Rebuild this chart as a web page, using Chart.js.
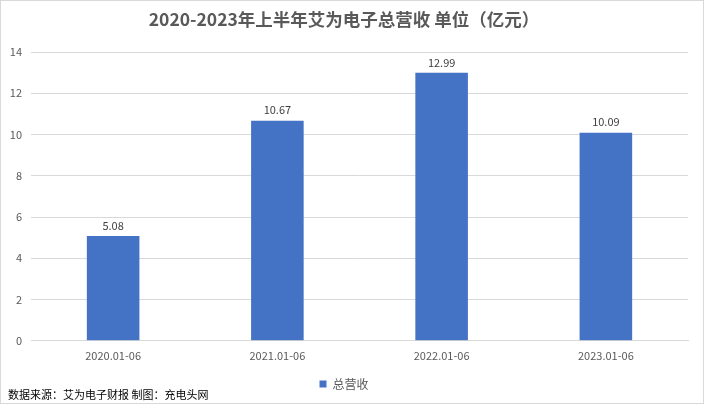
<!DOCTYPE html>
<html><head><meta charset="utf-8">
<script src="https://cdn.jsdelivr.net/npm/chart.js@4/dist/chart.umd.min.js"></script>
<style>html,body{margin:0;padding:0;background:#fff}#wrap{width:704px;height:404px;position:relative}</style>
</head><body><div id="wrap"><canvas id="c" width="704" height="404"></canvas></div>
<script>
const categories = ['2020.01-06','2021.01-06','2022.01-06','2023.01-06'];
const revenue = [5.08, 10.67, 12.99, 10.09];
const seriesName = '总营收';
const titleText = '2020-2023年上半年艾为电子总营收 单位（亿元）';
const footerText = '数据来源：艾为电子财报 制图：充电头网';
const FONT = '"Noto Sans CJK SC", "Noto Sans", sans-serif';

const extras = {
  id: 'extras',
  beforeDraw(chart) {
    const ctx = chart.ctx;
    ctx.save();
    ctx.fillStyle = '#fff';
    ctx.fillRect(0, 0, chart.width, chart.height);
    ctx.restore();
  },
  afterDraw(chart) {
    const ctx = chart.ctx;
    ctx.save();
    const meta = chart.getDatasetMeta(0);
    ctx.font = '11px ' + FONT;
    ctx.fillStyle = '#404040';
    ctx.textAlign = 'center';
    ctx.textBaseline = 'bottom';
    meta.data.forEach((bar, i) => {
      ctx.fillText(revenue[i].toFixed(2), bar.x, bar.y - 5);
    });
    ctx.font = '11px ' + FONT;
    ctx.fillStyle = '#000';
    ctx.textAlign = 'left';
    ctx.textBaseline = 'middle';
    ctx.fillText(footerText, 8, 395);
    ctx.strokeStyle = '#d9d9d9';
    ctx.lineWidth = 1;
    ctx.strokeRect(0.5, 0.5, chart.width - 1, chart.height - 1);
    ctx.restore();
  }
};

new Chart(document.getElementById('c'), {
  type: 'bar',
  data: {
    labels: categories,
    datasets: [{
      label: seriesName,
      data: revenue,
      backgroundColor: '#4472C4',
      barPercentage: 0.32,
      categoryPercentage: 1.0
    }]
  },
  options: {
    responsive: false,
    animation: false,
    layout: { padding: { left: 0, right: 16, top: 0, bottom: 4 } },
    plugins: {
      title: {
        display: true, text: titleText, color: '#595959',
        font: { family: FONT, size: 17.5, weight: 'bold' },
        padding: { top: 9, bottom: 22 }
      },
      legend: {
        display: true, position: 'bottom',
        labels: { color: '#595959', font: { family: FONT, size: 12 }, boxWidth: 7, boxHeight: 7, padding: 6 }
      },
      tooltip: { enabled: false }
    },
    scales: {
      x: {
        afterFit(s) { s.height += 10; },
        grid: { display: false },
        border: { display: true, color: '#d9d9d9' },
        ticks: { color: '#595959', font: { family: FONT, size: 11 }, padding: 0 }
      },
      y: {
        min: 0, max: 14,
        afterFit(s) { s.width = 31; },
        grid: { color: '#d9d9d9', drawTicks: false },
        border: { display: false },
        ticks: { stepSize: 2, color: '#595959', font: { family: FONT, size: 11 }, padding: 9 }
      }
    }
  },
  plugins: [extras]
});
</script></body></html>
